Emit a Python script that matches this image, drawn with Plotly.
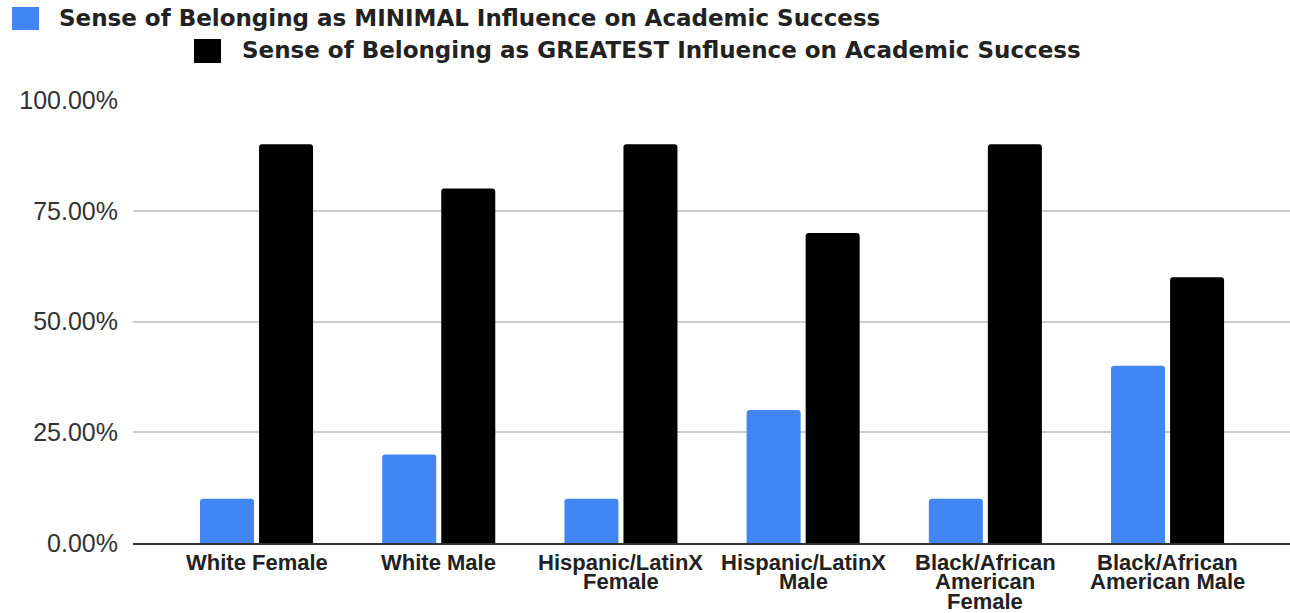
import plotly.graph_objects as go

# Survey results: share of students in each group naming sense of belonging
categories = [
    "White Female",
    "White Male",
    "Hispanic/LatinX Female",
    "Hispanic/LatinX Male",
    "Black/African American Female",
    "Black/African American Male",
]
# How each category label wraps under the axis
category_lines = [
    ["White Female"],
    ["White Male"],
    ["Hispanic/LatinX", "Female"],
    ["Hispanic/LatinX", "Male"],
    ["Black/African", "American", "Female"],
    ["Black/African", "American Male"],
]
series_names = [
    "Sense of Belonging as MINIMAL Influence on Academic Success",
    "Sense of Belonging as GREATEST Influence on Academic Success",
]
minimal_values = [0.10, 0.20, 0.10, 0.30, 0.10, 0.40]
greatest_values = [0.90, 0.80, 0.90, 0.70, 0.90, 0.60]
y_ticks = [0, 0.25, 0.50, 0.75, 1.0]

BLUE = "#4285F4"
BLACK = "#000000"
colors = [BLUE, BLACK]
ARIAL = "Liberation Sans, Arial, sans-serif"
WIDE = "DejaVu Sans, Verdana, sans-serif"

W, H = 1290, 613
ML, MR, MT, MB = 133, 0, 100, 70
PW, PH = W - ML - MR, H - MT - MB


def px_to_paper_x(px):
    return (px - ML) / PW


def px_to_paper_y(py):
    return (H - MB - py) / PH


fig = go.Figure()
for name, vals, col in zip(series_names, [minimal_values, greatest_values], colors):
    fig.add_trace(go.Bar(
        x=categories, y=vals, name=name,
        marker=dict(color=col, line=dict(width=0)),
        showlegend=False,
    ))

# Legend drawn as coloured squares with labels, on two staggered rows
legend_rows = [
    dict(sq=(12, 7, 39, 30), text_x=57, text_y=18),
    dict(sq=(194, 39, 221, 63), text_x=240, text_y=50),
]
shapes = []
annotations = []
for row, name, col in zip(legend_rows, series_names, colors):
    x0, y0, x1, y1 = row["sq"]
    shapes.append(dict(
        type="rect", xref="paper", yref="paper",
        x0=px_to_paper_x(x0), x1=px_to_paper_x(x1),
        y0=px_to_paper_y(y1), y1=px_to_paper_y(y0),
        fillcolor=col, line=dict(width=0), layer="above",
    ))
    annotations.append(dict(
        text=f"<b>{name}</b>", xref="paper", yref="paper",
        x=px_to_paper_x(row["text_x"]), y=px_to_paper_y(row["text_y"]),
        xanchor="left", yanchor="middle", showarrow=False,
        font=dict(family=WIDE, size=23, color="#222222"),
    ))

# Category labels with tight line spacing
for cat, lines in zip(categories, category_lines):
    for j, line in enumerate(lines):
        annotations.append(dict(
            text=f"<b>{line}</b>", xref="x", yref="paper",
            x=cat, y=0, xanchor="center", yanchor="middle",
            yshift=-(19 + 19.5 * j), showarrow=False, borderpad=0,
            font=dict(family=ARIAL, size=22, color="#222222"),
        ))

fig.update_layout(
    width=W, height=H,
    margin=dict(l=ML, r=MR, t=MT, b=MB, pad=0),
    paper_bgcolor="white", plot_bgcolor="white",
    barmode="group", bargap=0.352, bargroupgap=0.085,
    barcornerradius=3,
    shapes=shapes, annotations=annotations,
    font=dict(family=ARIAL, color="#333333"),
)
fig.update_xaxes(
    range=[-0.678, 5.672], showticklabels=False, showgrid=False,
    showline=True, linecolor="#333333", linewidth=2, ticks="",
    zeroline=False, fixedrange=True,
)
fig.update_yaxes(
    range=[0, 1], tickvals=y_ticks, tickformat=".2%",
    showgrid=True, gridcolor="#cccccc", gridwidth=1.5,
    zeroline=False, showline=False, ticks="",
    ticklabelstandoff=14,
    tickfont=dict(family=ARIAL, size=25, color="#333333"),
    fixedrange=True,
)

fig.write_html("out.html")
